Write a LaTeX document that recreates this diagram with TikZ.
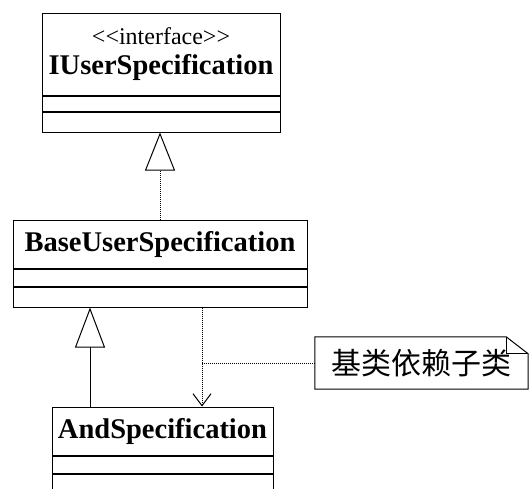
\documentclass[tikz,border=0pt]{standalone}
\usepackage{fontspec}
\setmainfont{Liberation Serif}
\newfontfamily\cjkfont{Noto Sans CJK SC}
\usetikzlibrary{arrows.meta,positioning}

\tikzset{
  classname/.style={draw,line width=1pt,inner sep=0pt,
    font=\fontsize{28.5}{30}\selectfont\bfseries},
  compart/.style={draw,line width=1pt,inner sep=0pt},
  realize/.style={densely dotted,line width=1pt,
    -{Triangle[open,length=38pt,width=30pt]}},
  generalize/.style={line width=1pt,
    -{Triangle[open,length=40pt,width=30pt]}},
  depend/.style={densely dotted,line width=1pt,
    -{Straight Barb[length=12pt,width=18pt]}},
  noteline/.style={densely dotted,line width=1pt},
  notebox/.style={inner sep=0pt,minimum width=213pt,minimum height=52pt,
    font=\fontsize{30}{32}\selectfont\cjkfont}
}

\begin{document}
\begin{tikzpicture}[x=1pt,y=-1pt]
  \useasboundingbox (0,0) rectangle (529,488);
  % interface
  \node[classname,minimum width=238pt,minimum height=82pt,align=center]
    (iface) at (161,54)
    {{\mdseries\fontsize{24}{26}\selectfont <{}<interface>{}>}\\[0pt]
     IUserSpecification};
  \node[compart,minimum width=238pt,minimum height=15pt,below=0pt of iface]
    (iface-a) {};
  \node[compart,minimum width=238pt,minimum height=20pt,below=0pt of iface-a]
    (iface-o) {};
  % base class
  \node[classname,minimum width=294pt,minimum height=48pt]
    (base) at (160,244) {BaseUserSpecification};
  \node[compart,minimum width=294pt,minimum height=17pt,below=0pt of base]
    (base-a) {};
  \node[compart,minimum width=294pt,minimum height=20pt,below=0pt of base-a]
    (base-o) {};
  % subclass
  \node[classname,minimum width=221pt,minimum height=48pt]
    (andspec) at (162.5,431) {AndSpecification};
  \node[compart,minimum width=221pt,minimum height=17pt,below=0pt of andspec]
    (andspec-a) {};
  \node[compart,minimum width=221pt,minimum height=17pt,below=0pt of andspec-a]
    (andspec-o) {};
  % note
  \node[notebox] (note) at (421.5,363) {基类依赖子类};
  \draw[line width=1pt] (note.south west) -- (note.north west)
    -- ([xshift=-22pt]note.north east) -- ([yshift=-17pt]note.north east)
    -- (note.south east) -- cycle;
  \draw[line width=1pt] ([xshift=-22pt]note.north east)
    |- ([yshift=-17pt]note.north east);
  % relations
  \draw[realize] (base.north) -- (base.north |- iface-o.south);
  \draw[generalize] ([xshift=-72.5pt]andspec.north)
    -- ([xshift=-72.5pt]andspec.north |- base-o.south);
  \coordinate (knot) at ([xshift=39.5pt]andspec.north |- note.west);
  \draw[depend] (base-o.south -| knot) -- (andspec.north -| knot);
  \draw[noteline] (knot) -- (note.west);
\end{tikzpicture}
\end{document}
